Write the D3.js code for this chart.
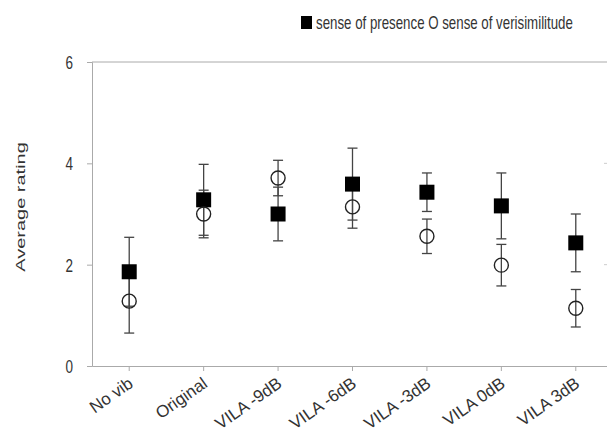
<!DOCTYPE html>
<html>
<head>
<meta charset="utf-8">
<script src="https://cdn.jsdelivr.net/npm/d3@7"></script>
<style>
  body { margin: 0; background: #fff; }
  text { font-family: "Liberation Sans", Arial, sans-serif; }
</style>
</head>
<body>
<script>
// data
var categories = ["No vib", "Original", "VILA -9dB", "VILA -6dB", "VILA -3dB", "VILA 0dB", "VILA 3dB"];
var presence    = [1.86, 3.28, 3.00, 3.59, 3.43, 3.16, 2.43];
var presenceErr = [0.68, 0.70, 0.53, 0.71, 0.38, 0.65, 0.57];
var verisim     = [1.28, 3.00, 3.71, 3.14, 2.56, 1.99, 1.14];
var verisimErr  = [0.63, 0.47, 0.35, 0.42, 0.34, 0.41, 0.37];
var yTicks = [0, 2, 4, 6];

function main() {
    var width = 607, height = 439;
    var left = 92, right = 613, top = 62, bottom = 366;
    var sx = 0.7; // the picture is squeezed sideways, text too

    var svg = d3.select("body").append("svg")
        .attr("width", width).attr("height", height);

    var x = d3.scaleBand().domain(categories).range([left, right]);
    var y = d3.scaleLinear().domain([0, 6]).range([bottom, top]);

    // y axis
    var yAxis = svg.append("g")
        .attr("transform", "translate(" + left + ",0)")
        .call(d3.axisLeft(y).tickValues(yTicks).tickFormat(d3.format("d")).tickSize(5));
    yAxis.select(".domain").attr("stroke", "#aaa");
    yAxis.selectAll(".tick line").attr("stroke", "#aaa");
    yAxis.selectAll(".tick text")
        .attr("font-size", "18px").attr("fill", "#333")
        .attr("x", 0).attr("dy", "0.36em")
        .attr("transform", "translate(-19,0) scale(0.75,1)");

    // x axis
    var xAxis = svg.append("g")
        .attr("transform", "translate(0," + bottom + ")")
        .call(d3.axisBottom(x).tickSize(5).tickSizeOuter(0));
    xAxis.select(".domain").attr("stroke", "#aaa");
    xAxis.selectAll(".tick line").attr("stroke", "#aaa");
    xAxis.selectAll(".tick text")
        .attr("font-size", "17px").attr("fill", "#333")
        .attr("text-anchor", "end")
        .attr("dy", null).attr("y", 0)
        .attr("transform", "translate(5,20) rotate(-35)");

    // top frame line
    svg.append("line")
        .attr("x1", left).attr("x2", right)
        .attr("y1", y(6)).attr("y2", y(6))
        .attr("stroke", "#aaa");

    // right side ticks
    svg.selectAll(".rtick")
        .data(yTicks.slice(1, 3))
        .enter().append("line")
        .attr("x1", right - 9).attr("x2", right)
        .attr("y1", function(d) { return y(d); })
        .attr("y2", function(d) { return y(d); })
        .attr("stroke", "#ccc");

    // y label
    svg.append("text")
        .attr("transform", "translate(25,207) scale(0.65,1) rotate(-90)")
        .attr("text-anchor", "middle")
        .attr("font-size", "20px").attr("fill", "#333")
        .text("Average rating");

    var cx = function(i) { return x(categories[i]) + x.bandwidth() / 2; };
    var capW = 5;

    function errorBars(vals, errs) {
        var g = svg.append("g");
        var items = vals.map(function(v, i) { return { v: v, e: errs[i], i: i }; });
        g.selectAll(".stem").data(items).enter().append("line")
            .attr("x1", function(d) { return cx(d.i); })
            .attr("x2", function(d) { return cx(d.i); })
            .attr("y1", function(d) { return y(d.v - d.e); })
            .attr("y2", function(d) { return y(d.v + d.e); })
            .attr("stroke", "#444").attr("stroke-width", 1.3);
        [1, -1].forEach(function(s) {
            g.selectAll(".cap" + (s > 0 ? "u" : "d")).data(items).enter().append("line")
                .attr("x1", function(d) { return cx(d.i) - capW; })
                .attr("x2", function(d) { return cx(d.i) + capW; })
                .attr("y1", function(d) { return y(d.v + s * d.e); })
                .attr("y2", function(d) { return y(d.v + s * d.e); })
                .attr("stroke", "#444").attr("stroke-width", 1.3);
        });
    }

    errorBars(verisim, verisimErr);
    errorBars(presence, presenceErr);

    var sq = 15;
    svg.selectAll(".pres").data(presence).enter().append("rect")
        .attr("x", function(d, i) { return cx(i) - sq / 2; })
        .attr("y", function(d) { return y(d) - sq / 2; })
        .attr("width", sq).attr("height", sq)
        .attr("fill", "#000");

    svg.selectAll(".ver").data(verisim).enter().append("circle")
        .attr("cx", function(d, i) { return cx(i); })
        .attr("cy", function(d) { return y(d); })
        .attr("r", 7)
        .attr("fill", "none")
        .attr("stroke", "#222").attr("stroke-width", 1.4);

    // legend
    svg.append("rect").attr("x", 301).attr("y", 16).attr("width", 11).attr("height", 13).attr("fill", "#000");
    svg.append("text")
        .attr("transform", "translate(316,29) scale(" + sx + ",1)")
        .attr("font-size", "19px").attr("fill", "#333")
        .text("sense of presence O sense of verisimilitude");
}

window.onload = main;
</script>
</body>
</html>
